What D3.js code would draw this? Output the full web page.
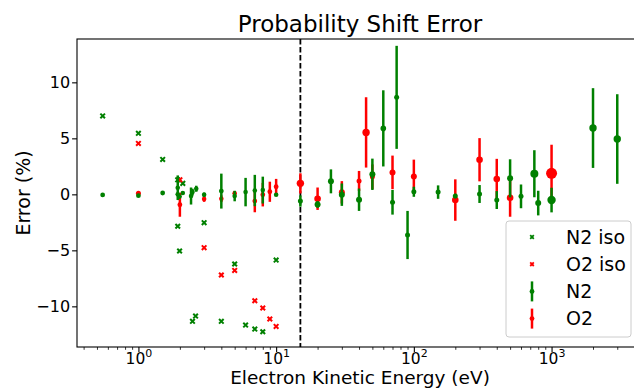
<!DOCTYPE html>
<html>
<head>
<meta charset="utf-8">
<script src="https://cdn.jsdelivr.net/npm/d3@7"></script>
<style>
  body { margin: 0; background: #fff; }
  text { font-family: "DejaVu Sans", sans-serif; fill: #000; }
</style>
</head>
<body>
<script>
// isolated-atom values (crosses)
const n2IsoE = [0.55, 1, 1.5, 1.93, 2.1, 1.93, 1.99, 2.47, 2.6, 3, 4, 5, 6, 7, 8, 10]
const n2IsoVal = [7.0, 5.45, 3.12, 1.3, 0.98, -2.85, -5.06, -11.34, -10.87, -2.53, -11.34, -6.22, -11.67, -12.03, -12.27, -5.87]
const o2IsoE = [1, 2, 3, 4, 5, 7, 8, 9, 10]
const o2IsoVal = [4.55, 1.3, -4.76, -7.2, -6.79, -9.5, -10.15, -11.13, -11.79]

// molecule values with error bars
const n2E = [0.55, 1, 1.5, 1.93, 1.93, 1.99, 2.1, 2.41, 2.47, 2.63, 3, 4, 5, 6, 7, 8, 10, 15, 20, 25, 30, 40, 50, 60, 70, 75, 90, 100, 150, 200, 300, 400, 500, 600, 750, 800, 1000, 2000, 3000]
const n2Val = [-0.05, -0.12, 0.12, 0.59, 0.0, -0.2, 0.12, -0.15, 0.2, 0.5, -0.03, 0.29, -0.15, 0.2, 0.34, 0.38, -0.03, -0.6, -0.9, 1.16, -0.03, -0.48, 1.79, 5.89, -0.71, 8.66, -3.63, 0.23, 0.2, -0.15, 0.03, -0.51, 1.43, -0.18, 1.84, -0.78, -0.51, 5.92, 4.94]
const n2Err = [0, 0, 0, 1.1, 0, 0, 0, 0.76, 0.3, 0.27, 0.2, 1.56, 0.47, 1.27, 1.4, 1.2, 0, 0.5, 0.3, 1.07, 1.0, 1.0, 1.4, 3.4, 1.1, 4.6, 2.15, 0.45, 0.6, 0.2, 0.8, 0.8, 1.7, 1.06, 2.1, 1.1, 1.1, 3.56, 4.0]
const n2Size = [2.4, 2.4, 2.4, 2.3, 2.3, 2.3, 2.3, 2.3, 2.3, 2.3, 2.3, 2.4, 2.3, 2.3, 2.3, 2.3, 2.3, 2.5, 3, 3, 3, 3, 3, 2.8, 2.5, 2.5, 2.5, 2.5, 2.5, 2.5, 2.5, 2.5, 3, 2.5, 4, 3, 4.2, 3.7, 3.7]

const o2E = [1, 2, 3, 4, 5, 7, 8, 9, 10, 15, 20, 30, 40, 45, 50, 70, 100, 200, 300, 400, 500, 1000]
const o2Val = [0.09, -0.93, -0.42, -0.39, 0.09, -0.6, -0.03, 0.23, 0.68, 0.98, -0.39, 0.18, 1.19, 5.53, 1.57, 1.96, 1.6, -0.51, 3.09, 1.37, -0.3, 1.88]
const o2Err = [0, 1.07, 0.25, 0.3, 0.2, 1.0, 1.05, 0.9, 0.7, 0.9, 1.0, 1.0, 0.9, 3.14, 1.1, 1.5, 1.5, 1.85, 1.93, 1.8, 1.7, 2.55]
const o2Size = [2.5, 2.4, 2.3, 2.3, 2.3, 2.4, 2.4, 2.4, 2.4, 3.7, 3.3, 3, 2.5, 3.7, 2.5, 3, 3, 3.3, 3.3, 3.3, 3.3, 5.5]

const cutoff = 15
const yTicks = [-10, -5, 0, 5, 10]
const xTicks = [1, 10, 100, 1000]

const width = 634
const height = 391
const m = { left: 77, right: 643, top: 39, bottom: 347 }

let svg = d3.select('body')
  .append('svg')
  .attr('width', width)
  .attr('height', height)
  .style('display', 'block')

let x = d3.scaleLog()
  .domain([Math.pow(10, -0.446), Math.pow(10, 3.664)])
  .range([m.left, m.right])

let y = d3.scaleLinear()
  .domain([-13.63, 13.87])
  .range([m.bottom, m.top])

// minor log ticks
let minor = []
for (let k = -1; k <= 3; k++) {
  for (let j = 2; j <= 9; j++) {
    let v = j * Math.pow(10, k)
    if (v >= x.domain()[0] && v <= x.domain()[1]) minor.push(v)
  }
}

svg.append('g')
  .attr('transform', `translate(0,${m.bottom})`)
  .call(d3.axisBottom(x).tickValues(minor).tickSize(2.8).tickFormat(''))
  .call(g => g.select('.domain').remove())
  .call(g => g.selectAll('line').attr('stroke-width', 0.8))

let xAxis = svg.append('g')
  .attr('transform', `translate(0,${m.bottom})`)
  .call(d3.axisBottom(x).tickValues(xTicks).tickSize(4.9))
xAxis.select('.domain').remove()
xAxis.selectAll('line').attr('stroke-width', 1.1)
xAxis.selectAll('.tick text').each(function (d) {
  let t = d3.select(this).text(null)
    .attr('y', 16.5).attr('dy', null)
    .attr('font-size', 15.5).attr('font-family', 'DejaVu Sans')
  t.append('tspan').text('10')
  t.append('tspan').attr('dy', -7).attr('font-size', 11).text(Math.round(Math.log10(d)))
})

let yAxis = svg.append('g')
  .attr('transform', `translate(${m.left},0)`)
  .call(d3.axisLeft(y).tickValues(yTicks).tickSize(4.9).tickPadding(2)
    .tickFormat(d => d < 0 ? '\u2212' + Math.abs(d) : d))
yAxis.select('.domain').remove()
yAxis.selectAll('line').attr('stroke-width', 1.1)
yAxis.selectAll('text').attr('font-size', 16).attr('font-family', 'DejaVu Sans')

// frame
svg.append('rect')
  .attr('x', m.left).attr('y', m.top)
  .attr('width', m.right - m.left).attr('height', m.bottom - m.top)
  .attr('fill', 'none').attr('stroke', '#000').attr('stroke-width', 1.1)

// cutoff line
svg.append('line')
  .attr('x1', x(cutoff)).attr('x2', x(cutoff))
  .attr('y1', m.top).attr('y2', m.bottom)
  .attr('stroke', '#000').attr('stroke-width', 1.8)
  .attr('stroke-dasharray', '5.5,2.5')

function crosses (xs, vs, color) {
  let g = svg.append('g')
  xs.forEach((e, i) => {
    let cx = x(e), cy = y(vs[i]), s = 2.3
    g.append('path')
      .attr('d', `M${cx - s},${cy - s}L${cx + s},${cy + s}M${cx - s},${cy + s}L${cx + s},${cy - s}`)
      .attr('stroke', color).attr('stroke-width', 2)
  })
}

function errorbars (xs, vs, es, rs, color) {
  let g = svg.append('g')
  xs.forEach((e, i) => {
    if (es[i] > 0) {
      g.append('line')
        .attr('x1', x(e)).attr('x2', x(e))
        .attr('y1', y(vs[i] - es[i])).attr('y2', y(vs[i] + es[i]))
        .attr('stroke', color).attr('stroke-width', 2.5)
    }
    g.append('circle')
      .attr('cx', x(e)).attr('cy', y(vs[i]))
      .attr('r', rs[i]).attr('fill', color)
  })
}

crosses(n2IsoE, n2IsoVal, 'green')
crosses(o2IsoE, o2IsoVal, 'red')
errorbars(o2E, o2Val, o2Err, o2Size, 'red')
errorbars(n2E, n2Val, n2Err, n2Size, 'green')

// legend
let lg = svg.append('g').attr('transform', 'translate(506,221)')
lg.append('rect')
  .attr('width', 125).attr('height', 116).attr('rx', 3)
  .attr('fill', '#fff').attr('fill-opacity', 0.8)
  .attr('stroke', '#cccccc').attr('stroke-width', 1)

const legendItems = [
  { label: 'N2 iso', color: 'green', kind: 'x' },
  { label: 'O2 iso', color: 'red', kind: 'x' },
  { label: 'N2', color: 'green', kind: 'bar' },
  { label: 'O2', color: 'red', kind: 'bar' }
]
legendItems.forEach((d, i) => {
  let cy = 16 + i * 27.2
  let cx = 26
  if (d.kind === 'x') {
    let s = 1.8
    lg.append('path')
      .attr('d', `M${cx - s},${cy - s}L${cx + s},${cy + s}M${cx - s},${cy + s}L${cx + s},${cy - s}`)
      .attr('stroke', d.color).attr('stroke-width', 1.8)
  } else {
    lg.append('line')
      .attr('x1', cx).attr('x2', cx).attr('y1', cy - 10).attr('y2', cy + 10)
      .attr('stroke', d.color).attr('stroke-width', 2.5)
    lg.append('circle').attr('cx', cx).attr('cy', cy).attr('r', 2.4).attr('fill', d.color)
  }
  lg.append('text')
    .attr('x', 60).attr('y', cy).attr('dy', '0.36em')
    .attr('font-size', 19)
    .text(d.label)
})

// titles
svg.append('text')
  .attr('x', (m.left + m.right) / 2).attr('y', 32)
  .attr('text-anchor', 'middle').attr('font-size', 23)
  .text('Probability Shift Error')

svg.append('text')
  .attr('x', (m.left + m.right) / 2).attr('y', 384)
  .attr('text-anchor', 'middle').attr('font-size', 18.5)
  .text('Electron Kinetic Energy (eV)')

svg.append('text')
  .attr('transform', `translate(30,${(m.top + m.bottom) / 2}) rotate(-90)`)
  .attr('text-anchor', 'middle').attr('font-size', 19)
  .text('Error (%)')
</script>
</body>
</html>
